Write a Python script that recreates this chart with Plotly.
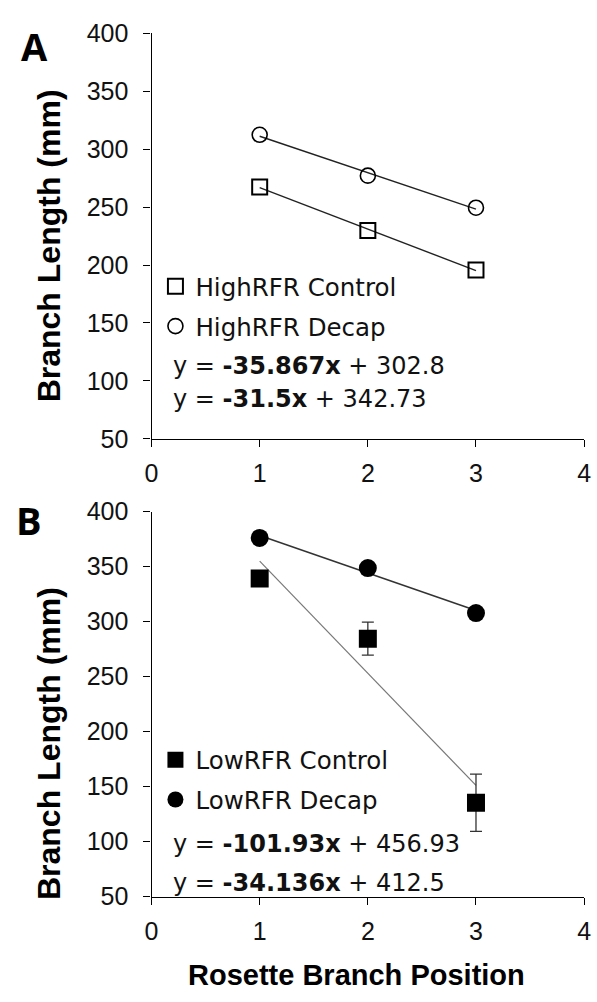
import plotly.graph_objects as go

# Rosette branch positions
positions = [1, 2, 3]

# Panel A: high R:FR
high_control = [267.5, 229.9, 195.8]
high_decap = [312.5, 277.2, 249.5]

# Panel B: low R:FR
low_control = [339.3, 284.5, 135.4]
low_control_err = [4, 15, 26]
low_decap = [376.1, 348.7, 307.8]

# Linear fits (slope, intercept)
fit_high_control = (-35.867, 302.8)
fit_high_decap = (-31.5, 342.73)
fit_low_control = (-101.93, 456.93)
fit_low_decap = (-34.136, 412.5)

y_ticks = [50, 100, 150, 200, 250, 300, 350, 400]
x_ticks = [0, 1, 2, 3, 4]

W, H = 597, 1002
TICK_FONT = dict(family="Liberation Sans, Arial", size=25, color="#111")
LEG_FONT = dict(family="DejaVu Sans", size=24.5, color="#111")
EQ_FONT = dict(family="DejaVu Sans", size=24, color="#111")


def px_x(p):
    return p / W


def px_y(p):
    return 1 - p / H


def fit_line(fit):
    slope, intercept = fit
    xs = [positions[0], positions[-1]]
    return xs, [slope * x + intercept for x in xs]


fig = go.Figure()

# ---- Panel A ----
for fit in (fit_high_control, fit_high_decap):
    xs, ys = fit_line(fit)
    fig.add_trace(go.Scatter(x=xs, y=ys, mode="lines", line=dict(color="#222", width=1.4),
                             showlegend=False, hoverinfo="skip", xaxis="x", yaxis="y"))
fig.add_trace(go.Scatter(x=positions, y=high_control, mode="markers", name="HighRFR Control",
                         marker=dict(symbol="square-open", size=15, color="#000", line=dict(width=2)),
                         xaxis="x", yaxis="y", legend="legend", legendgroup="hc"))
fig.add_trace(go.Scatter(x=positions, y=high_decap, mode="markers", name="HighRFR Decap",
                         marker=dict(symbol="circle-open", size=15, color="#000", line=dict(width=1.6)),
                         xaxis="x", yaxis="y", legend="legend", legendgroup="hd"))

# ---- Panel B ----
xs, ys = fit_line(fit_low_control)
fig.add_trace(go.Scatter(x=xs, y=ys, mode="lines", line=dict(color="#777", width=1.2),
                         showlegend=False, hoverinfo="skip", xaxis="x2", yaxis="y2"))
xs, ys = fit_line(fit_low_decap)
fig.add_trace(go.Scatter(x=xs, y=ys, mode="lines", line=dict(color="#333", width=1.5),
                         showlegend=False, hoverinfo="skip", xaxis="x2", yaxis="y2"))
fig.add_trace(go.Scatter(x=positions, y=low_control, mode="markers", name="LowRFR Control",
                         marker=dict(symbol="square", size=18, color="#000"),
                         error_y=dict(type="data", array=low_control_err, color="#333",
                                      thickness=1.3, width=6),
                         xaxis="x2", yaxis="y2", legend="legend2", legendgroup="lc"))
fig.add_trace(go.Scatter(x=positions, y=low_decap, mode="markers", name="LowRFR Decap",
                         marker=dict(symbol="circle", size=18, color="#000"),
                         xaxis="x2", yaxis="y2", legend="legend2", legendgroup="ld"))

x_dom = [px_x(148), px_x(591)]
common_x = dict(range=[0, 4], tickvals=x_ticks, showline=True, linecolor="#000", linewidth=1.3,
                ticks="outside", ticklen=7, tickwidth=1.3, tickcolor="#000", showgrid=False,
                zeroline=False, tickfont=TICK_FONT, fixedrange=True, domain=x_dom,
                ticklabeloverflow="allow", ticklabelstandoff=5)
common_y = dict(range=[50, 400], tickvals=y_ticks, showline=True, linecolor="#000", linewidth=1.3,
                ticks="outside", ticklen=7, tickwidth=1.3, tickcolor="#000", showgrid=False,
                zeroline=False, tickfont=TICK_FONT, fixedrange=True, ticklabelstandoff=10)

legend_common = dict(font=LEG_FONT, bgcolor="rgba(0,0,0,0)", borderwidth=0,
                     xanchor="left", yanchor="top", tracegroupgap=5, itemwidth=30,
                     traceorder="grouped")

annotations = []
# Panel letters
annotations.append(dict(text="<b>A</b>", x=px_x(28), y=px_y(33), xref="paper", yref="paper",
                        showarrow=False, font=dict(family="Open Sans", size=38, color="#000"),
                        xanchor="center", yanchor="middle"))
annotations.append(dict(text="<b>B</b>", x=px_x(23), y=px_y(521), xref="paper", yref="paper",
                        showarrow=False, font=dict(family="Open Sans", size=38, color="#000"),
                        xanchor="center", yanchor="middle"))
# Y-axis titles
for yc in (238, 750):
    annotations.append(dict(text="<b>Branch Length (mm)</b>", x=px_x(43), y=px_y(yc),
                            xref="paper", yref="paper", showarrow=False, textangle=-90,
                            font=dict(family="Liberation Sans, Arial", size=32, color="#000"),
                            xanchor="center", yanchor="middle"))
# X-axis title
annotations.append(dict(text="<b>Rosette Branch Position</b>", x=px_x(358), y=px_y(989),
                        xref="paper", yref="paper", showarrow=False,
                        font=dict(family="Liberation Sans, Arial", size=29, color="#000"),
                        xanchor="center", yanchor="middle"))


def equation(fit):
    slope, intercept = fit
    return f"y = <b>{slope:g}x</b> + {intercept:g}"


for fit, yc in ((fit_high_control, 362), (fit_high_decap, 396),
                (fit_low_control, 854), (fit_low_decap, 894)):
    annotations.append(dict(text=equation(fit), x=px_x(168), y=px_y(yc), xref="paper", yref="paper",
                            showarrow=False, font=EQ_FONT, xanchor="left", yanchor="middle"))

fig.update_layout(
    width=W, height=H, autosize=False,
    margin=dict(l=0, r=0, t=0, b=0),
    paper_bgcolor="#fff", plot_bgcolor="#fff",
    xaxis=dict(common_x, anchor="y"),
    yaxis=dict(common_y, domain=[px_y(437), px_y(20)], anchor="x"),
    xaxis2=dict(common_x, anchor="y2"),
    yaxis2=dict(common_y, domain=[px_y(908), px_y(512)], anchor="x2"),
    legend=dict(legend_common, x=px_x(152), y=px_y(257)),
    legend2=dict(legend_common, x=px_x(152), y=px_y(744)),
    annotations=annotations,
)

fig.write_html("out.html")
